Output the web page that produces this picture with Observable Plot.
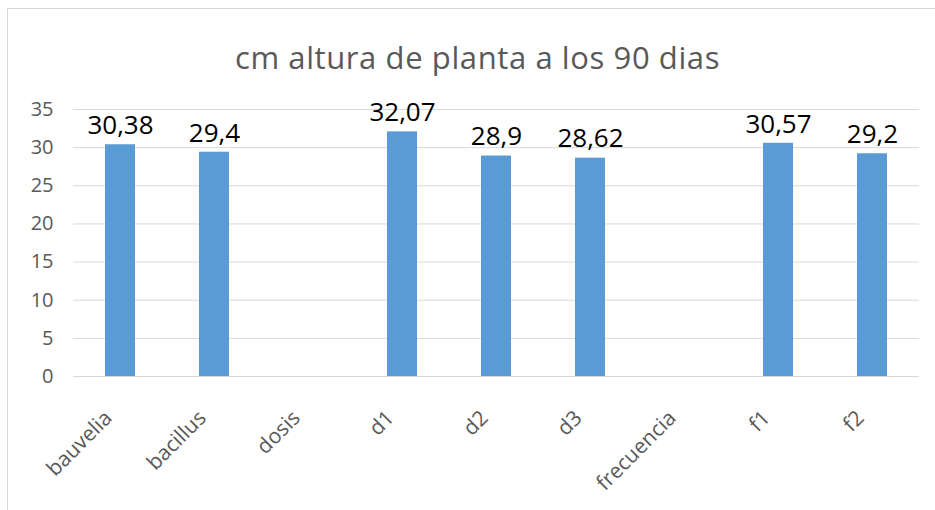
<!DOCTYPE html>
<html>
<head>
<meta charset="utf-8">
<script src="https://cdn.jsdelivr.net/npm/d3@7"></script>
<script src="https://cdn.jsdelivr.net/npm/@observablehq/plot@0.6"></script>
<style>
  html, body { margin: 0; padding: 0; background: #fff; }
  #frame { position: absolute; left: 7px; top: 8px; width: 940px; height: 520px; border: 1px solid #d9d9d9; box-sizing: border-box; }
  #wrap { position: absolute; left: 0; top: 0; width: 935px; height: 510px; font-family: "Open Sans", sans-serif; }
  #title { position: absolute; left: 10px; top: 0; width: 935px; height: 90px; text-align: center; line-height: 114px; font-size: 31px; letter-spacing: 0.6px; color: #595959; }
  #chart { position: absolute; left: 0; top: 90px; }
</style>
</head>
<body>
<div id="frame"></div>
<div id="wrap">
  <div id="title">cm altura de planta a los 90 dias</div>
  <div id="chart"></div>
</div>
<script>
const categories = ["bauvelia", "bacillus", "dosis", "d1", "d2", "d3", "frecuencia", "f1", "f2"];
const values = [30.38, 29.4, null, 32.07, 28.9, 28.62, null, 30.57, 29.2];
const yTicks = [0, 5, 10, 15, 20, 25, 30, 35];

const data = categories.map((c, i) => ({cat: c, value: values[i]}));
const bars = data.filter(d => d.value != null);
const fmt = v => String(v).replace(".", ",");

const chart = Plot.plot({
  width: 935,
  height: 420,
  marginTop: 19,
  marginBottom: 134,
  marginLeft: 73,
  marginRight: 16,
  style: {fontFamily: "Open Sans, sans-serif", background: "transparent", overflow: "visible"},
  x: {domain: categories, paddingInner: 0.68, paddingOuter: 0.34, label: null},
  y: {domain: [0, 35], label: null},
  marks: [
    Plot.gridY(yTicks, {stroke: "#d9d9d9", strokeOpacity: 1, strokeWidth: 1}),
    Plot.barY(bars, {x: "cat", y: "value", fill: "#5b9bd5"}),
    Plot.text(bars, {x: "cat", y: "value", text: d => fmt(d.value), dy: -19, fontSize: 26, fill: "#000"}),
    Plot.axisY({ticks: yTicks, tickSize: 0, tickPadding: 20, fontSize: 20, fill: "#595959", label: null}),
    Plot.axisX({tickSize: 0, tickRotate: -45, tickPadding: 12, dx: -12, dy: 26, fontSize: 21, fill: "#595959", label: null})
  ]
});
document.getElementById("chart").appendChild(chart);
</script>
</body>
</html>
